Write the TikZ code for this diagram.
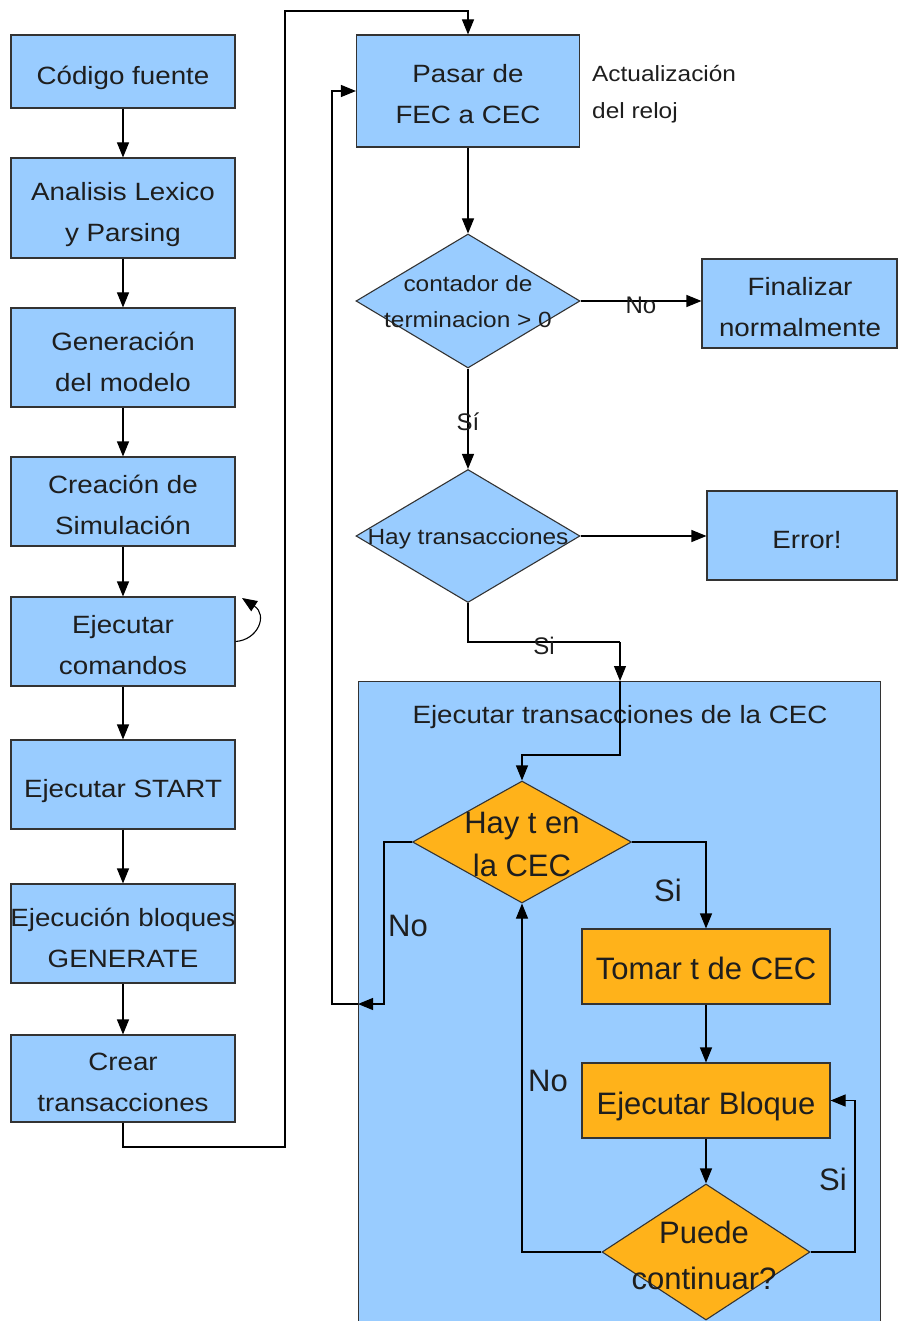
\documentclass[tikz,border=0pt]{standalone}
\usepackage{fontspec}
\setmainfont{Liberation Sans}
\newfontfamily\widesans{Liberation Sans}[FakeStretch=1.11]
\usetikzlibrary{shapes.geometric,arrows.meta}
\definecolor{edge}{HTML}{333333}
\definecolor{ink}{HTML}{1E1E1E}
\definecolor{skyfill}{HTML}{99CCFF}
\definecolor{amber}{RGB}{255,178,26}
\begin{document}
\begin{tikzpicture}[x=1pt,y=-1pt,
  box/.style={draw=edge, fill=skyfill, line width=1.1pt, inner sep=0pt},
  obox/.style={draw=edge, fill=amber, line width=1.1pt, inner sep=0pt},
  btext/.style={align=center, text=ink, inner sep=0pt, text depth=0pt,
                font=\widesans\fontsize{25}{41}\selectfont},
  otext/.style={align=center, text=ink, inner sep=0pt, text depth=0pt,
                font=\fontsize{31}{43}\selectfont},
  dia/.style={diamond, draw=edge, line width=1.1pt, inner sep=0pt},
  dtext/.style={align=center, text=ink, inner sep=0pt},
  arr/.style={draw=black, line width=1.1pt, -{Triangle[length=15pt,width=12pt]}},
  link/.style={draw=black, line width=1.1pt},
  lab/.style={text=ink, inner sep=0pt, font=\fontsize{24}{28}\selectfont},
  olab/.style={text=ink, inner sep=0pt, font=\fontsize{31}{36}\selectfont}]
\useasboundingbox (0,0) rectangle (898,1321);

% container for the transaction loop
\node[draw=edge, fill=skyfill, line width=1.1pt, inner sep=0pt,
      minimum width=522pt, minimum height=660pt, anchor=north west] (cont) at (358,681) {};
\node[text=ink, inner sep=0pt, font=\widesans\fontsize{25}{29}\selectfont] (ctitle) at (620,717)
  {Ejecutar transacciones de la CEC};

% left column
\node[box, minimum width=224pt, minimum height=73pt] (b1) at (123,71.5) {};
\node[btext] (b1t) at (123,75) {Código fuente};
\node[box, minimum width=224pt, minimum height=100pt] (b2) at (123,208) {};
\node[btext] (b2t) at (123,212) {Analisis Lexico\\y Parsing};
\node[box, minimum width=224pt, minimum height=99pt] (b3) at (123,357.5) {};
\node[btext] (b3t) at (123,361.5) {Generación\\del modelo};
\node[box, minimum width=224pt, minimum height=89pt] (b4) at (123,501.5) {};
\node[btext] (b4t) at (123,505) {Creación de\\Simulación};
\node[box, minimum width=224pt, minimum height=89pt] (b5) at (123,641.5) {};
\node[btext] (b5t) at (123,645) {Ejecutar\\comandos};
\node[box, minimum width=224pt, minimum height=89pt] (b6) at (123,784.5) {};
\node[btext] (b6t) at (123,788) {Ejecutar START};
\node[box, minimum width=224pt, minimum height=99pt] (b7) at (123,933.5) {};
\node[btext] (b7t) at (123,937.5) {Ejecución bloques\\GENERATE};
\node[box, minimum width=224pt, minimum height=87pt] (b8) at (123,1078.5) {};
\node[btext] (b8t) at (123,1082.5) {Crear\\transacciones};

% right column
\node[box, minimum width=223pt, minimum height=112pt] (pasar) at (468,91) {};
\node[btext] (pasart) at (468,93.5) {Pasar de\\FEC a CEC};
\node[anchor=west, align=left, inner sep=0pt, text=ink,
      font=\widesans\fontsize{22}{37}\selectfont] (reloj) at (592,94) {Actualización\\del reloj};

\node[dia, fill=skyfill, minimum width=224pt, minimum height=134pt] (d1) at (468,301) {};
\node[dtext, font=\widesans\fontsize{22}{36}\selectfont] (d1t) at (468,302) {contador de\\terminacion > 0};
\node[box, minimum width=195pt, minimum height=89pt] (fin) at (799.5,303.5) {};
\node[btext] (fint) at (800,306.5) {Finalizar\\normalmente};

\node[dia, fill=skyfill, minimum width=224pt, minimum height=133pt] (d2) at (468,536) {};
\node[dtext, font=\widesans\fontsize{22}{26}\selectfont] (d2t) at (468,539) {Hay transacciones};
\node[box, minimum width=190pt, minimum height=89pt] (err) at (802,535.5) {};
\node[btext] (errt) at (807,540) {Error!};

% inside the container
\node[dia, fill=amber, minimum width=219pt, minimum height=122pt] (d3) at (522,842) {};
\node[dtext, font=\fontsize{31}{43}\selectfont] (d3t) at (522,844) {Hay t en\\la CEC};
\node[obox, minimum width=248pt, minimum height=75pt] (tomar) at (706,966.5) {};
\node[otext] (tomart) at (706,968.5) {Tomar t de CEC};
\node[obox, minimum width=248pt, minimum height=75pt] (bloque) at (706,1100.5) {};
\node[otext] (bloquet) at (706,1103) {Ejecutar Bloque};
\node[dia, fill=amber, minimum width=208pt, minimum height=136pt] (d4) at (706,1252) {};
\node[dtext, font=\fontsize{31}{46}\selectfont] (d4t) at (704,1255) {Puede\\continuar?};

% bend points
\coordinate (loopend) at (242,598);
\coordinate (jogA) at (285,1147);
\coordinate (jogB) at (468,11);
\coordinate (jogC) at (620,642);
\coordinate (ctop) at (620,681);
\coordinate (jogD) at (522,755);
\coordinate (jogE) at (384,1004);
\coordinate (cleft) at (358,1004);
\coordinate (jogF) at (332,1004);
\coordinate (jogG) at (855,1252);

% left column flow
\draw[arr] (b1) -- (b2);
\draw[arr] (b2) -- (b3);
\draw[arr] (b3) -- (b4);
\draw[arr] (b4) -- (b5);
\draw[arr] (b5) -- (b6);
\draw[arr] (b6) -- (b7);
\draw[arr] (b7) -- (b8);
\draw[arr] (b5.east) .. controls (258,640) and (268,615) .. (loopend);
\draw[arr] (b8.south) |- (jogA) |- (jogB) -- (pasar.north);

% clock update and checks
\draw[arr] (pasar) -- (d1);
\draw[arr] (d1.east) -- node[lab, pos=0.5, yshift=-4pt] (lno) {No} (d1.east -| fin.west);
\draw[arr] (d1.south) -- node[lab, pos=0.5, yshift=-3pt] (lsi1) {Sí} (d2.north);
\draw[arr] (d2.east) -- (d2.east -| err.west);
\draw[link] (d2.south) |- node[lab, pos=0.75, yshift=-4pt] (lsi2) {Si} (jogC);
\draw[arr] (jogC) -- (ctop);
\draw[arr] (ctop) |- (jogD) -- (d3.north);

% transaction loop
\draw[arr] (d3.east) -| node[olab, pos=0.78, xshift=-38pt] (lsi3) {Si} (tomar.north);
\draw[arr] (d3.west) -| node[olab, pos=0.76, xshift=24pt] (lno3) {No} (jogE) -- (cleft);
\draw[arr] (cleft) -- (jogF) |- (pasar.west);
\draw[arr] (tomar) -- (bloque);
\draw[arr] (bloque) -- (d4);
\draw[arr] (d4.east) -| node[olab, pos=0.738, xshift=-22pt] (lsi4) {Si} (jogG |- bloque.east) -- (bloque.east);
\draw[arr] (d4.west) -| node[olab, pos=0.745, xshift=26pt] (lno4) {No} (d3.south);
\end{tikzpicture}
\end{document}
